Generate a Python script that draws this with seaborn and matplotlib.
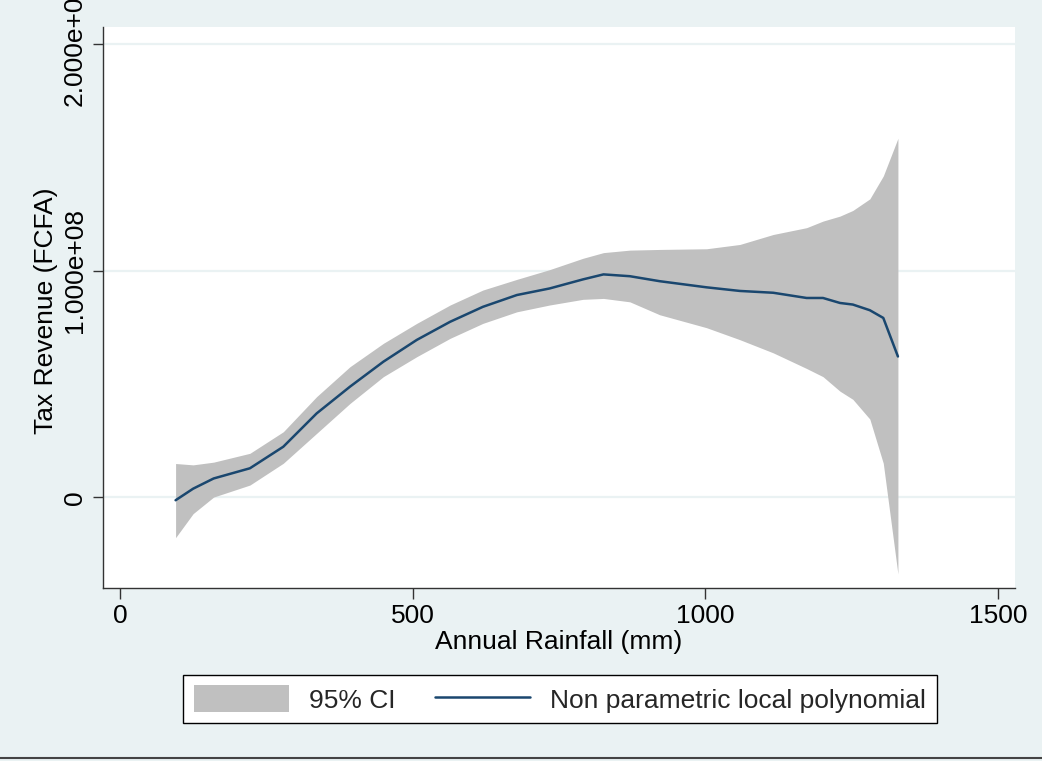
import numpy as np
import pandas as pd
import matplotlib
matplotlib.use("Agg")
import matplotlib.pyplot as plt
from matplotlib.patches import Patch
from matplotlib.lines import Line2D
import seaborn as sns

# Local polynomial fit of tax revenue on annual rainfall (values in 1e8 FCFA)
rainfall = [95, 125, 160, 222, 279, 336, 393, 450, 507, 564, 620, 678, 734, 791,
            826, 871, 922, 1002, 1059, 1116, 1173, 1201, 1230, 1252, 1281, 1304,
            1329]
fit = [-0.013, 0.038, 0.083, 0.128, 0.223, 0.370, 0.488, 0.598, 0.694, 0.774,
       0.840, 0.892, 0.921, 0.961, 0.983, 0.975, 0.953, 0.926, 0.910, 0.902,
       0.879, 0.879, 0.857, 0.850, 0.825, 0.791, 0.621]
ci_low = [-0.178, -0.072, 0.001, 0.054, 0.150, 0.282, 0.414, 0.532, 0.620, 0.701,
          0.767, 0.818, 0.848, 0.873, 0.877, 0.862, 0.805, 0.748, 0.695, 0.637,
          0.568, 0.532, 0.468, 0.432, 0.345, 0.150, -0.338]
ci_high = [0.149, 0.143, 0.155, 0.194, 0.289, 0.444, 0.576, 0.679, 0.767, 0.848,
           0.914, 0.961, 1.004, 1.054, 1.079, 1.090, 1.093, 1.096, 1.115, 1.159,
           1.189, 1.218, 1.240, 1.265, 1.316, 1.417, 1.583]
scale = 1e8

x_ticks = [0, 500, 1000, 1500]
y_ticks = [0, 1e8, 2e8]

df = pd.DataFrame({
    "rain": rainfall,
    "fit": np.array(fit) * scale,
    "lo": np.array(ci_low) * scale,
    "hi": np.array(ci_high) * scale,
})

sns.set_theme(style="white")
plt.rcParams["font.family"] = ["Liberation Sans", "DejaVu Sans"]

BG = "#EAF2F3"
AXC = "#333333"
FS = 19

fig = plt.figure(figsize=(10.42, 7.61), dpi=100, facecolor=BG)
ax = fig.add_axes([103 / 1042, 1 - 588 / 761, 912 / 1042, 561 / 761])
ax.set_facecolor("white")

for yv in y_ticks:
    ax.axhline(yv, color=BG, lw=1.6, zorder=0.5)

ax.fill_between(df["rain"], df["lo"], df["hi"], color="#C0C0C0", lw=0, zorder=1)
sns.lineplot(data=df, x="rain", y="fit", ax=ax, color="#1A476F", lw=1.8,
             zorder=2, legend=False)

ax.set_xlim(-29, 1529)
ax.set_ylim(-0.40e8, 2.074e8)

ax.set_xticks(x_ticks)
ax.set_xticklabels([str(v) for v in x_ticks], fontsize=FS)
ax.set_yticks(y_ticks)
ax.set_yticklabels(["0" if v == 0 else f"{v:.3e}" for v in y_ticks],
                   fontsize=FS, rotation=90, va="center")

ax.tick_params(axis="x", direction="out", length=8, width=1, color=AXC, pad=3.5,
               bottom=True, labelcolor="black")
ax.tick_params(axis="y", direction="out", length=7.5, width=1, color=AXC, pad=4,
               left=True, labelcolor="black")

for side in ["top", "right"]:
    ax.spines[side].set_visible(False)
for side in ["left", "bottom"]:
    ax.spines[side].set_color(AXC)
    ax.spines[side].set_linewidth(1)

ax.set_xlabel("Annual Rainfall (mm)", fontsize=FS, color="black")
ax.set_ylabel("Tax Revenue (FCFA)", fontsize=FS, color="black")
ax.xaxis.set_label_coords(0.5, -0.075)
ax.yaxis.set_label_coords(-0.049, 0.495)

handles = [Patch(facecolor="#C0C0C0", edgecolor="none"),
           Line2D([], [], color="#1A476F", lw=1.8)]
leg = fig.legend(handles, ["95% CI", "Non parametric local polynomial"],
                 loc="center", bbox_to_anchor=(560 / 1042, 1 - 699 / 761),
                 ncol=2, fontsize=FS, frameon=True, fancybox=False,
                 edgecolor="black", facecolor="white", framealpha=1,
                 handlelength=3.6, handleheight=1.2, handletextpad=0.76,
                 columnspacing=1.5, borderpad=0.4)
leg.get_frame().set_linewidth(1)

fig.add_artist(Line2D([0, 1], [1 - 758 / 761] * 2, transform=fig.transFigure,
                      color="#444444", lw=1.5))

fig.savefig("out.png", dpi=100, facecolor=BG)
